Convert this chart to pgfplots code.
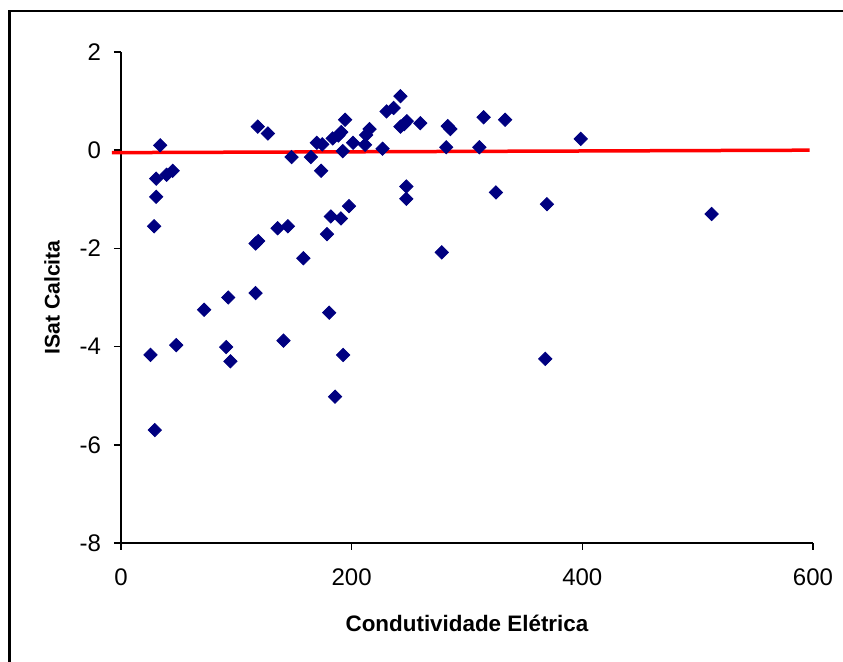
\documentclass[border=0pt]{standalone}
\usepackage{fontspec}
\setmainfont{Liberation Sans}
\usepackage{pgfplots}
\pgfplotsset{compat=1.18}
\definecolor{xlnavy}{RGB}{0,0,128}

\begin{document}
\begin{tikzpicture}
\begin{axis}[
  at={(60.5pt,59.5pt)}, anchor=south west,
  scale only axis, width=346pt, height=245.5pt,
  xmin=0, xmax=600, ymin=-8, ymax=2,
  axis x line=bottom, axis y line=left,
  axis line style={-, line width=0.75pt},
  xtick={0,200,400,600}, ytick={-8,-6,-4,-2,0,2},
  tick align=outside, major tick length=3.5pt,
  tick style={line width=0.75pt, black},
  /pgf/number format/assume math mode=true,
  ticklabel style={font=\fontsize{12}{14}\selectfont},
  xticklabel style={yshift=-6pt},
  yticklabel style={xshift=-3pt},
  xlabel={Condutividade Elétrica}, ylabel={ISat Calcita},
  xlabel style={font=\bfseries\fontsize{11.2}{13}\selectfont,
    at={(axis description cs:0.5,-0.163)}, anchor=center},
  ylabel style={font=\bfseries\fontsize{10.6}{12}\selectfont,
    at={(axis description cs:-0.0997,0.5)}, anchor=center},
  clip=false,
]
% linha de referencia
\addplot[red, line width=1.75pt, no marks] coordinates {(-8,-0.05) (597,0.0)};

\addplot[only marks, mark=square*, mark size=2.35pt,
  mark options={rotate=45, fill=xlnavy, draw=xlnavy}] table {
x y
34.0 0.10
30.5 -0.58
30.5 -0.95
28.7 -1.55
39.5 -0.50
44.8 -0.42
25.6 -4.17
29.3 -5.70
47.9 -3.97
72.1 -3.25
93.0 -3.00
91.2 -4.01
94.9 -4.30
118.6 0.48
127.4 0.34
116.7 -1.90
119.0 -1.85
116.7 -2.91
135.8 -1.59
144.7 -1.55
140.9 -3.88
147.9 -0.14
158.1 -2.20
164.7 -0.14
169.8 0.15
174.5 0.12
173.5 -0.42
178.6 -1.71
181.9 -1.35
180.5 -3.31
185.6 -5.02
192.6 -4.17
183.5 0.24
188.5 0.30
191.0 0.37
192.3 -0.02
194.3 0.62
190.7 -1.39
197.7 -1.14
201.2 0.15
211.6 0.11
212.5 0.31
215.5 0.43
226.8 0.03
230.3 0.79
236.4 0.86
242.3 1.10
242.3 0.48
245.6 0.53
247.8 0.59
247.4 -0.74
247.4 -0.99
259.5 0.55
278.1 -2.08
282.0 0.06
283.3 0.49
285.6 0.43
310.7 0.06
314.4 0.67
325.1 -0.86
333.0 0.62
369.3 -1.10
367.9 -4.25
398.6 0.23
512.1 -1.30
};
\end{axis}
\draw[line width=1.25pt] (4.75pt,-20pt) -- (4.75pt,325.6pt) -- (450pt,325.6pt);
\pgfresetboundingbox
\useasboundingbox (0,0) rectangle (421.5pt,331pt);
\end{tikzpicture}
\end{document}
